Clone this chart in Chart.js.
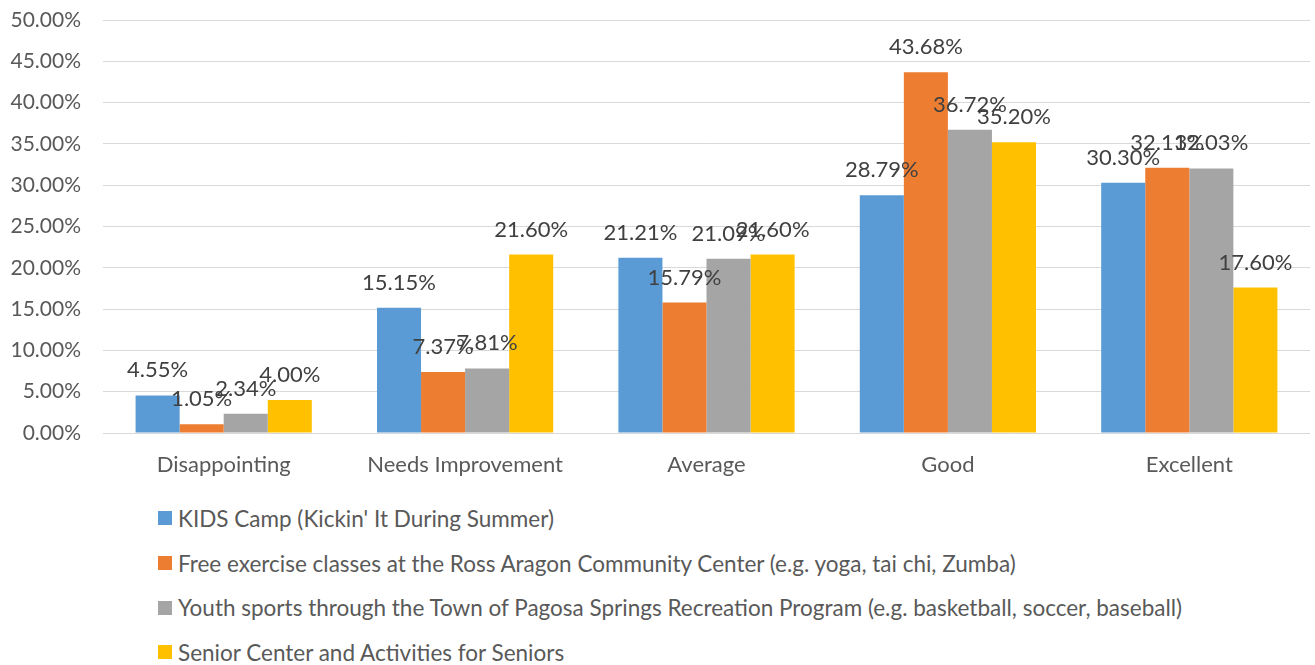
<!DOCTYPE html>
<html>
<head>
<meta charset="utf-8">
<script src="https://cdn.jsdelivr.net/npm/chart.js@4"></script>
<style>
  body { margin: 0; background: #fff; font-family: Lato, sans-serif; }
  #wrap { position: relative; width: 1315px; height: 493px; }
  #legenda { position: absolute; left: 158px; top: 496px; }
  .item { display: flex; align-items: center; height: 44.7px; font-size: 22.5px; color: #595959; white-space: nowrap; }
  .item span.box { width: 14px; height: 14px; margin-right: 6px; display: inline-block; }
</style>
</head>
<body>
<div id="wrap"><canvas id="grafico"></canvas></div>
<div id="legenda"></div>
<script>
const categorias = ["Disappointing", "Needs Improvement", "Average", "Good", "Excellent"];
const series = [
  "KIDS Camp (Kickin' It During Summer)",
  "Free exercise classes at the Ross Aragon Community Center (e.g. yoga, tai chi, Zumba)",
  "Youth sports through the Town of Pagosa Springs Recreation Program (e.g. basketball, soccer, baseball)",
  "Senior Center and Activities for Seniors"
];
const kidsCamp = [4.55, 15.15, 21.21, 28.79, 30.30];
const exercicios = [1.05, 7.37, 15.79, 43.68, 32.11];
const esportes = [2.34, 7.81, 21.09, 36.72, 32.03];
const idosos = [4.00, 21.60, 21.60, 35.20, 17.60];
const cores = ["#5B9BD5", "#ED7D31", "#A5A5A5", "#FFC000"];
const ticksY = [0, 5, 10, 15, 20, 25, 30, 35, 40, 45, 50];

// rótulos de valor em cima das barras
const rotulos = {
  id: "rotulos",
  afterDatasetsDraw(chart) {
    const ctx = chart.ctx;
    ctx.save();
    ctx.font = "22px Lato";
    ctx.fillStyle = "#404040";
    ctx.textAlign = "center";
    ctx.textBaseline = "alphabetic";
    chart.data.datasets.forEach((ds, i) => {
      chart.getDatasetMeta(i).data.forEach((bar, j) => {
        ctx.fillText(ds.data[j].toFixed(2) + "%", bar.x, bar.y - 18);
      });
    });
    ctx.restore();
  }
};

const dados = [kidsCamp, exercicios, esportes, idosos];

const chart = new Chart(document.getElementById("grafico"), {
  type: "bar",
  data: {
    labels: categorias,
    datasets: dados.map((d, i) => ({
      label: series[i],
      data: d,
      backgroundColor: cores[i],
      categoryPercentage: 0.73,
      barPercentage: 1
    }))
  },
  options: {
    responsive: true,
    maintainAspectRatio: false,
    animation: false,
    layout: { padding: { top: 20, right: 5, left: 0, bottom: 0 } },
    plugins: { legend: { display: false }, tooltip: { enabled: false } },
    scales: {
      x: {
        grid: { display: false },
        border: { display: false },
        ticks: { color: "#595959", font: { family: "Lato", size: 22 }, padding: 11 },
        afterFit: s => { s.height = 60; }
      },
      y: {
        min: 0,
        max: 50,
        afterBuildTicks: s => { s.ticks = ticksY.map(v => ({ value: v })); },
        grid: { color: "#D9D9D9", drawTicks: false },
        border: { display: false },
        ticks: {
          color: "#595959",
          font: { family: "Lato", size: 21 },
          padding: 22,
          callback: v => v.toFixed(2) + "%"
        },
        afterFit: s => {
          s.width = 103;
          s.paddingTop = 0;
          s.paddingBottom = 0;
        }
      }
    }
  },
  plugins: [rotulos]
});

const legenda = document.getElementById("legenda");
chart.data.datasets.forEach(ds => {
  const item = document.createElement("div");
  item.className = "item";
  item.innerHTML = '<span class="box" style="background:' + ds.backgroundColor + '"></span>' + ds.label;
  legenda.appendChild(item);
});
</script>
</body>
</html>
